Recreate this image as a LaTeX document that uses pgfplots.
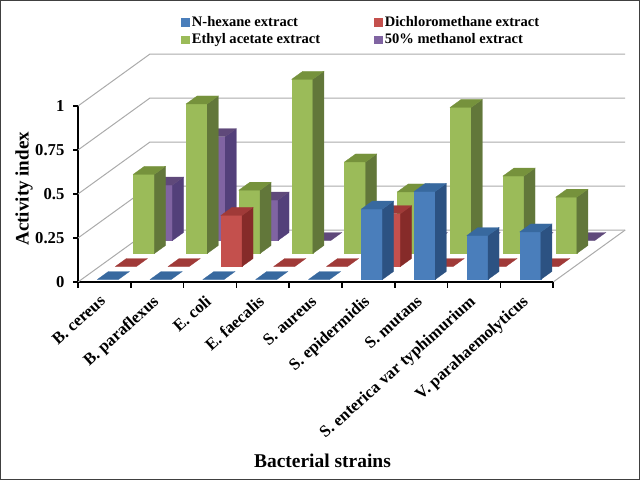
\documentclass[border=0pt]{standalone}
\usepackage{pgfplots}
\usepackage{pgfplotstable}
\usepackage{fontspec}
\setmainfont{Liberation Serif}
\pgfplotsset{compat=1.18}

\definecolor{blueF}{HTML}{4A7EBB}
\definecolor{blueS}{HTML}{2C5282}
\definecolor{blueT}{HTML}{38699F}
\definecolor{redF}{HTML}{C4504D}
\definecolor{redS}{HTML}{862B29}
\definecolor{redT}{HTML}{A03A38}
\definecolor{greenF}{HTML}{9BBB59}
\definecolor{greenS}{HTML}{62773A}
\definecolor{greenT}{HTML}{76923C}
\definecolor{purpleF}{HTML}{8064A2}
\definecolor{purpleS}{HTML}{53407A}
\definecolor{purpleT}{HTML}{5F497A}
\definecolor{gridc}{HTML}{ABABAB}

% activity index per strain, one column per extract
\pgfplotstableread{
hexane dcm ethyl meoh
0    0    0.45 0.315
0    0    0.85 0.59
0    0.29 0.36 0.23
0    0    0.99 0
0    0    0.52 0
0.40 0.30 0.35 0
0.50 0    0.83 0
0.25 0    0.44 0
0.27 0    0.32 0
}\activity

% #1 strain index, #2 row, #3 value, #4 colour prefix
\newcommand{\onebar}[4]{%
  \pgfmathsetmacro\xa{#1+0.3}%
  \pgfmathsetmacro\xb{#1+0.7}%
  \pgfmathsetmacro\ya{0.048+0.25*#2}%
  \pgfmathsetmacro\yb{\ya+0.154}%
  \pgfmathsetmacro\zz{#3}%
  \pgfmathparse{#3>0?1:0}%
  \ifnum\pgfmathresult=1
    \addplot3[fill=#4F,draw=#4F,line width=0.2pt,forget plot] coordinates {(\xa,\ya,0) (\xb,\ya,0) (\xb,\ya,\zz) (\xa,\ya,\zz)} --cycle;
    \addplot3[fill=#4S,draw=#4S,line width=0.2pt,forget plot] coordinates {(\xb,\ya,0) (\xb,\yb,0) (\xb,\yb,\zz) (\xb,\ya,\zz)} --cycle;
  \fi
  \addplot3[fill=#4T,draw=#4T,line width=0.2pt,forget plot] coordinates {(\xa,\ya,\zz) (\xb,\ya,\zz) (\xb,\yb,\zz) (\xa,\yb,\zz)} --cycle;
}
% #1 column, #2 row, #3 colour prefix
\newcommand{\onerow}[3]{%
  \pgfplotsforeachungrouped \c in {0,...,8}{%
    \pgfplotstablegetelem{\c}{#1}\of\activity
    \let\v=\pgfplotsretval
    \onebar{\c}{#2}{\v}{#3}%
  }%
}

\begin{document}
\begin{tikzpicture}
\useasboundingbox (0,0) rectangle (480pt,360pt);
\begin{axis}[
  at={(58.5pt,148.5pt)}, anchor=origin,
  x={(39.6pt,0pt)}, y={(54pt,39pt)}, z={(0pt,132pt)},
  xmin=0, xmax=9, ymin=0, ymax=1, zmin=0, zmax=1,
  clip=false,
  axis lines*=left,
  y axis line style={draw=none},
  x axis line style={black,line width=1.2pt},
  z axis line style={black,line width=1.2pt},
  major tick length=0pt,
  ytick=\empty,
  xtick={0.5,1.5,...,8.5},
  xticklabels={B. cereus,B. paraflexus,E. coli,E. faecalis,S. aureus,S. epidermidis,S. mutans,S. enterica var typhimurium,V. parahaemolyticus},
  ztick={0,0.25,0.5,0.75,1},
  zticklabels={0,0.25,0.5,0.75,1},
  xticklabel style={font=\fontsize{12.5pt}{14pt}\selectfont\bfseries,rotate=42,anchor=north east,inner sep=0pt,xshift=-9.2pt,yshift=-4pt},
  zticklabel style={font=\fontsize{12.5pt}{14pt}\selectfont\bfseries,anchor=east,inner sep=0pt,xshift=-10pt},
  xlabel={Bacterial strains},
  xlabel style={font=\fontsize{14.6pt}{17pt}\selectfont\bfseries,at={(axis cs:4.63,0,0)},anchor=center,yshift=-134pt},
  zlabel={Activity index},
  zlabel style={font=\fontsize{14.3pt}{16pt}\selectfont\bfseries,at={(axis cs:0,0,0.53)},anchor=center,yshift=40.5pt},
  legend columns=2,
  legend cell align=left,
  legend image code/.code={\draw[#1,line width=0pt] (0pt,-2.8pt) rectangle (6pt,2.8pt);},
  legend style={draw=none,fill=none,font=\fontsize{10.9pt}{13pt}\selectfont\bfseries,at={(axis cs:1.875,0,1.425)},anchor=west,/tikz/every even column/.append style={column sep=38.5pt}},
]
\addlegendimage{fill=blueF,draw=blueF}
\addlegendentry{N-hexane extract}
\addlegendimage{fill=redF,draw=redF}
\addlegendentry{Dichloromethane extract}
\addlegendimage{fill=greenF,draw=greenF}
\addlegendentry{Ethyl acetate extract}
\addlegendimage{fill=purpleF,draw=purpleF}
\addlegendentry{50\% methanol extract}

% walls
\pgfplotsinvokeforeach{0,0.25,0.5,0.75,1}{
  \addplot3[gridc,line width=0.75pt,forget plot] coordinates {(0,0,#1) (0,1,#1) (9,1,#1)};
}
\addplot3[gridc,line width=0.75pt,forget plot] coordinates {(9,0,0) (9,1,0)};

% bars, back row first
\onerow{meoh}{3}{purple}
\onerow{ethyl}{2}{green}
\onerow{dcm}{1}{red}
\onerow{hexane}{0}{blue}

% tick marks
\pgfplotsinvokeforeach{0,1,...,9}{
  \addplot3[black,line width=1.1pt,forget plot] coordinates {(#1,0,0) (#1,0,-0.035)};
}
\pgfplotsinvokeforeach{0,0.25,0.5,0.75,1}{
  \addplot3[black,line width=1.1pt,forget plot] coordinates {(0,0,#1) (-0.1,0,#1)};
}
\end{axis}
\draw[black!75,line width=0.75pt] (0.4pt,0.4pt) rectangle (479.6pt,359.6pt);
\end{tikzpicture}
\end{document}
